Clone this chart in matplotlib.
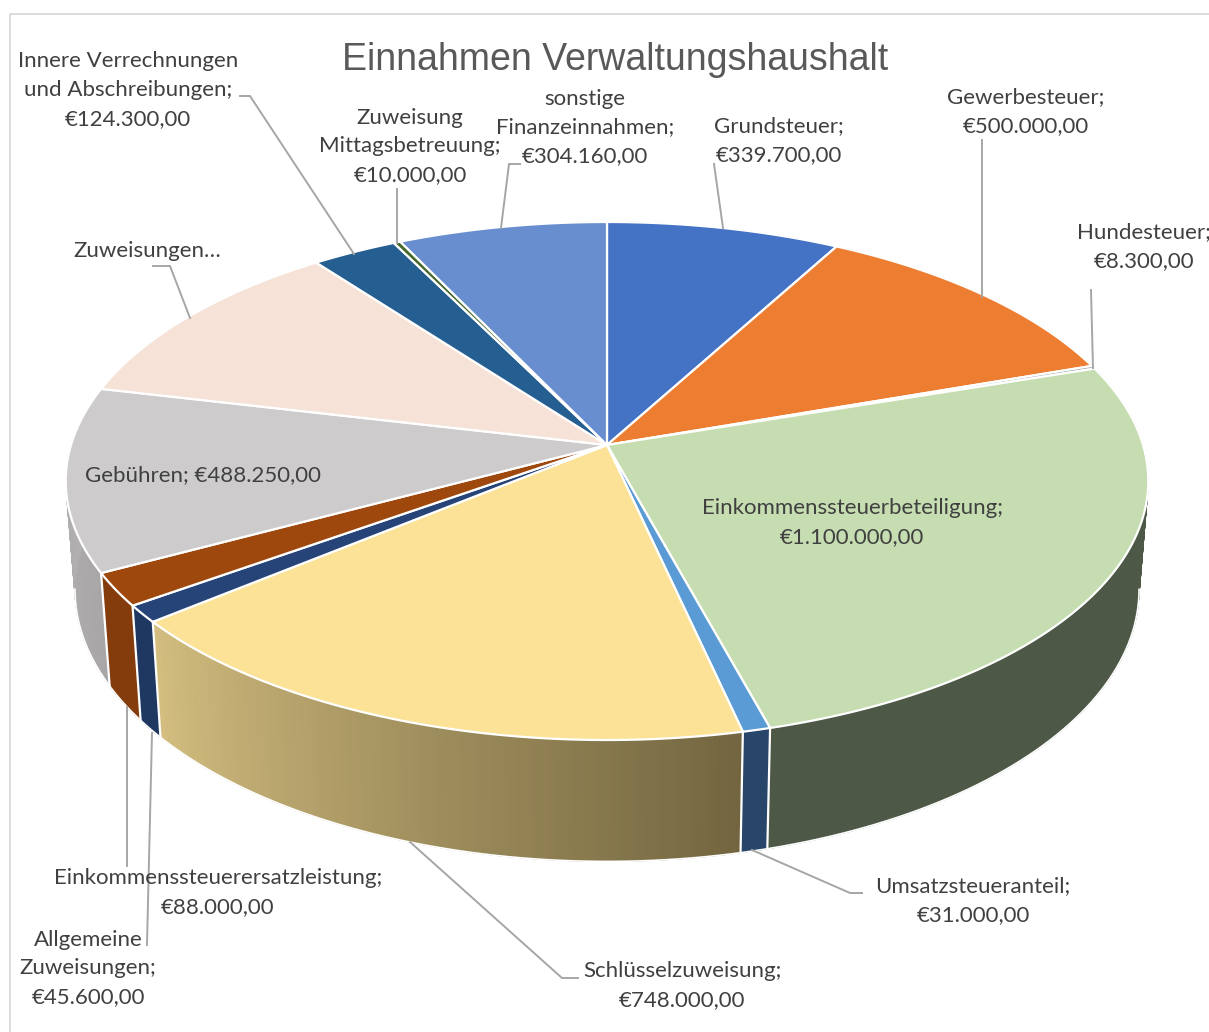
import numpy as np
import matplotlib

matplotlib.use("Agg")
import matplotlib.pyplot as plt

slices = [
    "Grundsteuer", "Gewerbesteuer", "Hundesteuer", "Einkommenssteuerbeteiligung",
    "Umsatzsteueranteil", "Schlüsselzuweisung", "Allgemeine Zuweisungen",
    "Einkommenssteuerersatzleistung", "Gebühren", "Zuweisungen",
    "Innere Verrechnungen und Abschreibungen", "Zuweisung Mittagsbetreuung",
    "sonstige Finanzeinnahmen",
]
# the "Zuweisungen..." label is cut off in the chart, value estimated from its slice
values = [339700, 500000, 8300, 1100000, 31000, 748000, 45600, 88000, 488250,
          470000, 124300, 10000, 304160]
top_colors = ["#4472C4", "#ED7D31", "#A5A5A5", "#C5DDB0", "#5B9BD5", "#FBE296", "#264478",
              "#9E480E", "#CDCBCB", "#F6E2D6", "#255E91", "#43682B", "#698ED0"]
side_left = ["#4472C4", "#ED7D31", "#A5A5A5", "#4E5846", "#28466A", "#D4BE80", "#1E3862",
             "#843C0C", "#B6B4B4", "#F6E2D6", "#255E91", "#43682B", "#698ED0"]
side_right = ["#4472C4", "#ED7D31", "#A5A5A5", "#4E5846", "#28466A", "#72653F", "#1E3862",
              "#843C0C", "#A8A6A6", "#F6E2D6", "#255E91", "#43682B", "#698ED0"]

labels = [
    ("Innere Verrechnungen\nund Abschreibungen;\n€124.300,00", 128, 90),
    ("Zuweisung\nMittagsbetreuung;\n€10.000,00", 410, 146.5),
    ("sonstige\nFinanzeinnahmen;\n€304.160,00", 585, 127.5),
    ("Grundsteuer;\n€339.700,00", 779, 141),
    ("Gewerbesteuer;\n€500.000,00", 1026, 111.5),
    ("Hundesteuer;\n€8.300,00", 1144, 247),
    ("Zuweisungen…", 147, 251),
    ("Gebühren; €488.250,00", 203, 475),
    ("Einkommenssteuerbeteiligung;\n€1.100.000,00", 852, 522.5),
    ("Umsatzsteueranteil;\n€31.000,00", 973, 900.5),
    ("Schlüsselzuweisung;\n€748.000,00", 682, 985.5),
    ("Einkommenssteuerersatzleistung;\n€88.000,00", 218, 892.5),
    ("Allgemeine\nZuweisungen;\n€45.600,00", 88, 968.5),
]
leaders = [
    ([240, 250, 354], [96, 96, 254]),
    ([397, 397], [189, 243]),
    ([520, 509, 501], [164, 164, 228]),
    ([714, 723], [164, 228]),
    ([982, 982], [140, 297]),
    ([1091, 1093], [290, 368]),
    ([153, 170, 190], [266, 266, 318]),
    ([862, 850, 752], [893, 893, 850]),
    ([578, 562, 410], [978, 978, 842]),
    ([127, 127], [866, 707]),
    ([152, 147], [733, 945]),
]

CX, CY = 607, 445
RX, RY, K = 536, 254, 0.139
SHRINK = 0.983


def top_surface(theta):
    w = 1 + K * np.cos(theta)
    return CX + RX * np.sin(theta) / w, CY - RY * np.cos(theta) / w


def bottom_surface(theta):
    x, y = top_surface(theta)
    return CX + (x - CX) * SHRINK, y + 113 + 0.05 * (y - 572)


fig = plt.figure(figsize=(12.09, 10.32), dpi=100)
ax = fig.add_axes([0, 0, 1, 1])
ax.set_xlim(0, 1209)
ax.set_ylim(1032, 0)
ax.axis("off")

# chart frame
ax.plot([1209, 10, 10], [14, 14, 1032], color="#D9D9D9", lw=1.3, zorder=1)

shares = np.array(values) / sum(values)
edges = np.concatenate([[0], np.cumsum(shares)]) * 2 * np.pi

# rim: thin strips, shaded from one end of the slice to the other
for i in range(len(values)):
    start, stop = edges[i], edges[i + 1]
    n = max(int((stop - start) * 120), 2)
    grid = np.linspace(start, stop, n + 1)
    c0 = np.array(matplotlib.colors.to_rgb(side_left[i]))
    c1 = np.array(matplotlib.colors.to_rgb(side_right[i]))
    # solid underlay so the strips leave no light seams
    t = np.linspace(start, stop, 200)
    xt, yt = top_surface(t)
    xb, yb = bottom_surface(t)
    ax.fill(np.r_[xt, xb[::-1]], np.r_[yt, yb[::-1]], color=(c0 + c1) / 2, lw=0.6, zorder=2)
    for j in range(n):
        t = np.linspace(grid[j], grid[j + 1], 3)
        xt, yt = top_surface(t)
        xb, yb = bottom_surface(t)
        # slices run clockwise, so on the front rim the start is on the right
        color = c1 + (c0 - c1) * (j + 0.5) / n
        ax.fill(np.r_[xt, xb[::-1]], np.r_[yt, yb[::-1]], color=color, lw=0.6, zorder=2)

front = np.linspace(np.pi / 2 + K, 3 * np.pi / 2 - K, 400)
xb, yb = bottom_surface(front)
ax.plot(xb, yb, color="white", lw=1.2, zorder=3)
for e in edges[4:9]:
    xt, yt = top_surface(e)
    xb, yb = bottom_surface(e)
    ax.plot([xt, xb], [yt, yb], color="white", lw=1.6, zorder=3)

# top face
for i in range(len(values)):
    t = np.linspace(edges[i], edges[i + 1], 200)
    x, y = top_surface(t)
    ax.fill(np.r_[CX, x], np.r_[CY, y], facecolor=top_colors[i], edgecolor="white",
            lw=1.6, joinstyle="round", zorder=4)

for lx, ly in leaders:
    ax.plot(lx, ly, color="#A6A6A6", lw=1.4, zorder=5, solid_joinstyle="miter")

for text, x, y in labels:
    ax.text(x, y, text, ha="center", va="center", fontsize=16, family="Lato",
            color="#404040", linespacing=1.56, zorder=6)

ax.text(615, 60, "Einnahmen Verwaltungshaushalt", ha="center", va="center", fontsize=27,
        family="Liberation Sans", color="#595959", zorder=6)

fig.savefig("out.png", dpi=100)
